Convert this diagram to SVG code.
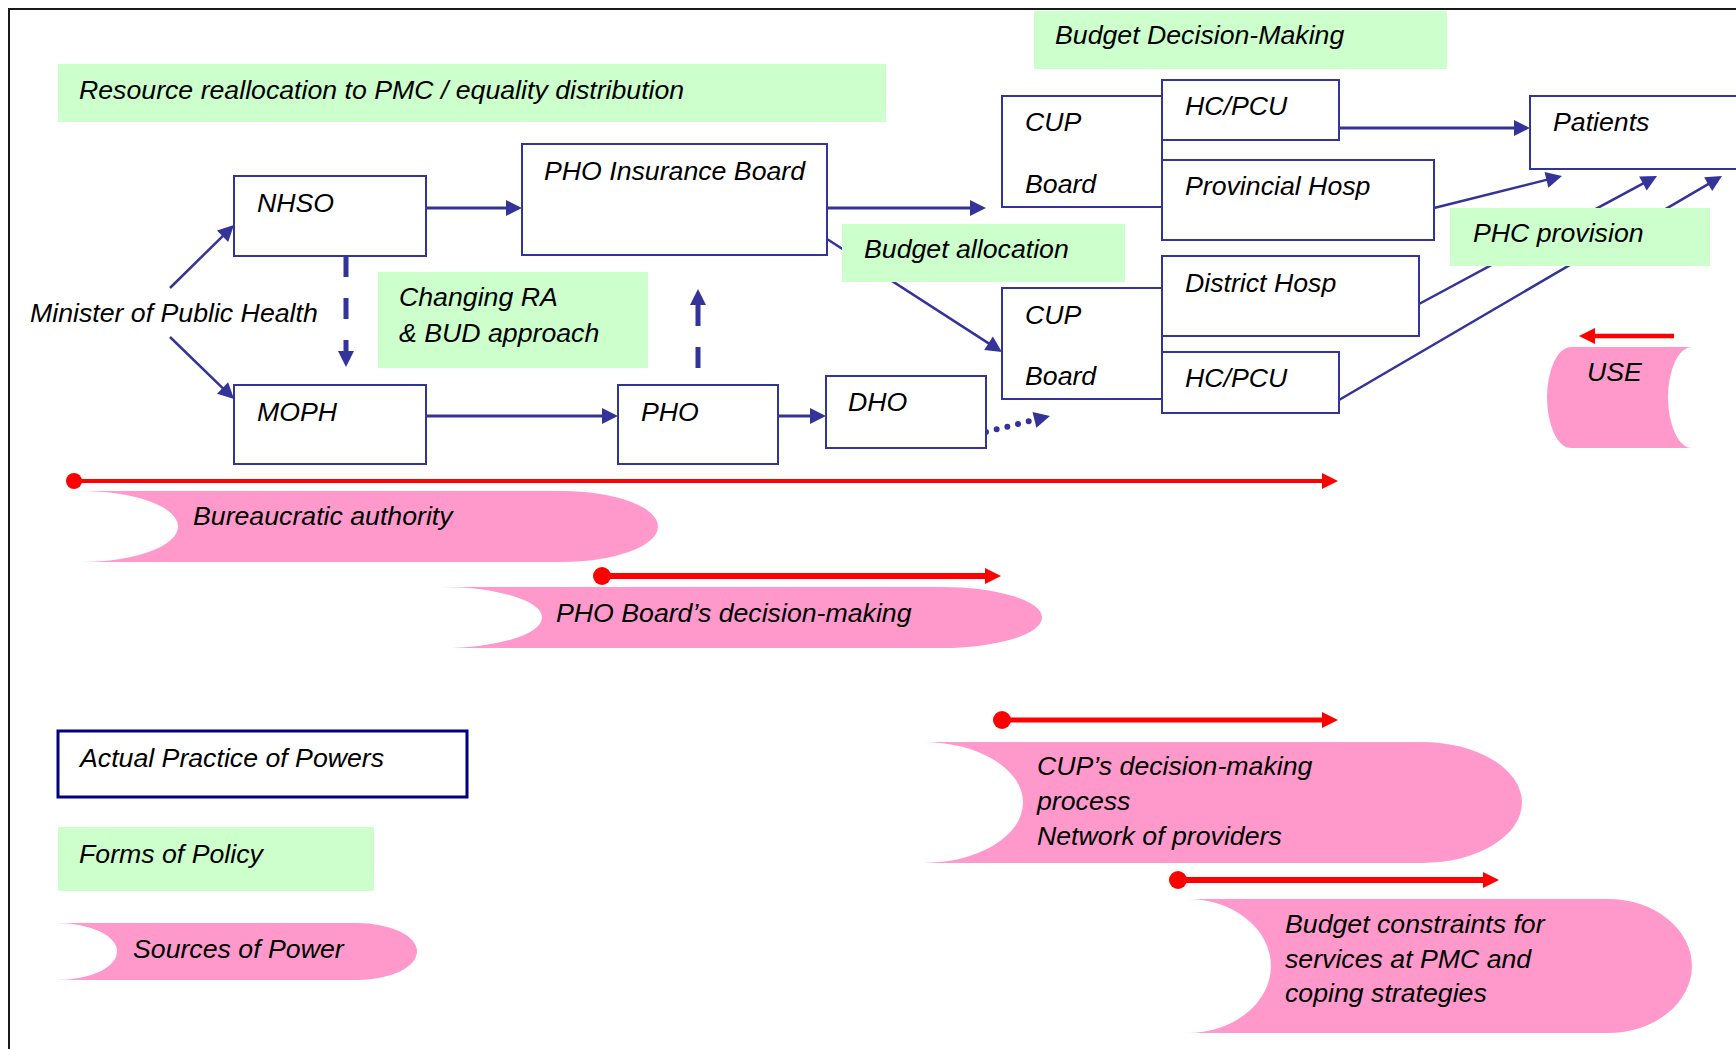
<svg xmlns="http://www.w3.org/2000/svg" width="1736" height="1049" viewBox="0 0 1736 1049">
<defs>
<marker id="ab" markerUnits="userSpaceOnUse" markerWidth="17" markerHeight="17" refX="2" refY="8" orient="auto" overflow="visible"><path d="M0,0 L16,8 L0,16 Z" fill="#333399"/></marker>
<marker id="ar" markerUnits="userSpaceOnUse" markerWidth="17" markerHeight="17" refX="2" refY="8" orient="auto" overflow="visible"><path d="M0,0 L16,8 L0,16 Z" fill="#FF0000"/></marker>
</defs>
<style>
.t{font-family:"Liberation Sans",Arial,sans-serif;font-style:italic;font-size:26.7px;fill:#000}
.box{fill:#fff;stroke:#333399;stroke-width:2}
.grn{fill:#CCFFCC}
.pink{fill:#FF99CC}
.c{stroke:#333399;stroke-width:3;fill:none}
.cd{stroke:#333399;stroke-width:2.5;fill:none}
.r{stroke:#FF0000;fill:none}
</style>
<rect x="0" y="0" width="1736" height="1049" fill="#fff"/>
<rect x="9" y="9" width="1760" height="1100" fill="none" stroke="#1a1a1a" stroke-width="2"/>

<g id="connectors">
<line class="cd" x1="170" y1="288" x2="224" y2="234.8" marker-end="url(#ab)"/>
<line class="cd" x1="170" y1="337" x2="224" y2="389.3" marker-end="url(#ab)"/>
<line class="c" x1="426" y1="208" x2="508" y2="208" marker-end="url(#ab)"/>
<line class="c" x1="426" y1="416" x2="604" y2="416" marker-end="url(#ab)"/>
<line class="c" x1="778" y1="416" x2="812" y2="416" marker-end="url(#ab)"/>
<line stroke="#333399" stroke-width="5" stroke-dasharray="21 21" x1="346" y1="256" x2="346" y2="353" marker-end="url(#ab)"/>
<line stroke="#333399" stroke-width="5" stroke-dasharray="21 21" x1="698" y1="368" x2="698" y2="303" marker-end="url(#ab)"/>
<line class="c" x1="827" y1="208" x2="972" y2="208" marker-end="url(#ab)"/>
<line class="cd" x1="827" y1="239" x2="990.2" y2="344.4" marker-end="url(#ab)"/>
<line stroke="#333399" stroke-width="6" stroke-linecap="round" stroke-dasharray="0 11" x1="986" y1="432" x2="1036.4" y2="419.4" marker-end="url(#ab)"/>
<line class="c" x1="1339" y1="128" x2="1516" y2="128" marker-end="url(#ab)"/>
<line class="cd" x1="1434" y1="208" x2="1548.4" y2="179.4" marker-end="url(#ab)"/>
<line class="cd" x1="1419" y1="304" x2="1644.7" y2="182.6" marker-end="url(#ab)"/>
<line class="cd" x1="1339" y1="400" x2="1709.9" y2="183.1" marker-end="url(#ab)"/>
<line class="r" stroke-width="4" x1="74" y1="481" x2="1324" y2="481" marker-end="url(#ar)"/>
<circle cx="74" cy="481" r="8" fill="#FF0000"/>
<line class="r" stroke-width="6" x1="602" y1="576" x2="987" y2="576" marker-end="url(#ar)"/>
<circle cx="602" cy="576" r="9" fill="#FF0000"/>
<line class="r" stroke-width="5" x1="1002" y1="720" x2="1324" y2="720" marker-end="url(#ar)"/>
<circle cx="1002" cy="720" r="9" fill="#FF0000"/>
<line class="r" stroke-width="6" x1="1178" y1="880" x2="1485" y2="880" marker-end="url(#ar)"/>
<circle cx="1178" cy="880" r="9" fill="#FF0000"/>
<line class="r" stroke-width="4.5" x1="1674" y1="336" x2="1593" y2="336" marker-end="url(#ar)"/>
</g>

<g id="resource-realloc"><rect class="grn" x="58" y="64" width="828" height="58"/><text class="t" x="79" y="99">Resource reallocation to PMC / equality distribution</text></g>
<g id="budget-dm"><rect class="grn" x="1034" y="11" width="413" height="58"/><text class="t" x="1055" y="44">Budget Decision-Making</text></g>
<g id="minister"><text class="t" x="30" y="322">Minister of Public Health</text></g>
<g id="nhso"><rect class="box" x="234" y="176" width="192" height="80"/><text class="t" x="257" y="212">NHSO</text></g>
<g id="pho-ins"><rect class="box" x="522" y="144" width="305" height="111"/><text class="t" x="544" y="180">PHO Insurance Board</text></g>
<g id="moph"><rect class="box" x="234" y="385" width="192" height="79"/><text class="t" x="257" y="421">MOPH</text></g>
<g id="pho"><rect class="box" x="618" y="385" width="160" height="79"/><text class="t" x="641" y="421">PHO</text></g>
<g id="dho"><rect class="box" x="826" y="376" width="160" height="72"/><text class="t" x="848" y="411">DHO</text></g>
<g id="changing"><rect class="grn" x="378" y="272" width="270" height="96"/><text class="t" x="399" y="306">Changing RA</text><text class="t" x="399" y="342">&amp; BUD approach</text></g>
<g id="budget-alloc"><rect class="grn" x="842" y="224" width="283" height="58"/><text class="t" x="864" y="258">Budget allocation</text></g>
<g id="cup1"><rect class="box" x="1002" y="96" width="160" height="111"/><text class="t" x="1025" y="131">CUP</text><text class="t" x="1025" y="193">Board</text></g>
<g id="hcpcu1"><rect class="box" x="1162" y="80" width="177" height="60"/><text class="t" x="1185" y="115">HC/PCU</text></g>
<g id="prov"><rect class="box" x="1162" y="160" width="272" height="80"/><text class="t" x="1185" y="195">Provincial Hosp</text></g>
<g id="cup2"><rect class="box" x="1002" y="288" width="160" height="111"/><text class="t" x="1025" y="324">CUP</text><text class="t" x="1025" y="385">Board</text></g>
<g id="district"><rect class="box" x="1162" y="256" width="257" height="80"/><text class="t" x="1185" y="292">District Hosp</text></g>
<g id="hcpcu2"><rect class="box" x="1162" y="352" width="177" height="61"/><text class="t" x="1185" y="387">HC/PCU</text></g>
<g id="patients"><rect class="box" x="1530" y="96" width="240" height="73"/><text class="t" x="1553" y="131">Patients</text></g>
<g id="phc"><rect class="grn" x="1450" y="208" width="260" height="58"/><text class="t" x="1473" y="242">PHC provision</text></g>
<g id="use"><path class="pink" d="M1571,347 H1692 A24,50.5 0 0 0 1692,448 H1571 A24,50.5 0 0 1 1571,347 Z"/><text class="t" x="1587" y="381">USE</text></g>
<g id="bureaucratic"><path class="pink" d="M82,491 H562 A96,35.5 0 0 1 562,562 H82 A96,35.5 0 0 0 82,491 Z"/><text class="t" x="193" y="525">Bureaucratic authority</text></g>
<g id="pho-board-dm"><path class="pink" d="M442,587 H942 A100,30.5 0 0 1 942,648 H442 A100,30.5 0 0 0 442,587 Z"/><text class="t" x="556" y="622">PHO Board’s decision-making</text></g>
<g id="cup-dm"><path class="pink" d="M923,742 H1422 A100,60.5 0 0 1 1422,863 H923 A100,60.5 0 0 0 923,742 Z"/><text class="t" x="1037" y="775">CUP’s decision-making</text><text class="t" x="1037" y="810">process</text><text class="t" x="1037" y="845">Network of providers</text></g>
<g id="budget-constraints"><path class="pink" d="M1187,899 H1608 A84,67 0 0 1 1608,1033 H1187 A84,67 0 0 0 1187,899 Z"/><text class="t" x="1285" y="933">Budget constraints for</text><text class="t" x="1285" y="968">services at PMC and</text><text class="t" x="1285" y="1002">coping strategies</text></g>
<g id="legend-actual"><rect x="58" y="731" width="409" height="66" fill="#fff" stroke="#000080" stroke-width="3"/><text class="t" x="80" y="767">Actual Practice of Powers</text></g>
<g id="legend-forms"><rect class="grn" x="58" y="827" width="316" height="64"/><text class="t" x="79" y="863">Forms of Policy</text></g>
<g id="legend-sources"><path class="pink" d="M57,923 H357 A60,28.5 0 0 1 357,980 H57 A60,28.5 0 0 0 57,923 Z"/><text class="t" x="133" y="958">Sources of Power</text></g>
</svg>
